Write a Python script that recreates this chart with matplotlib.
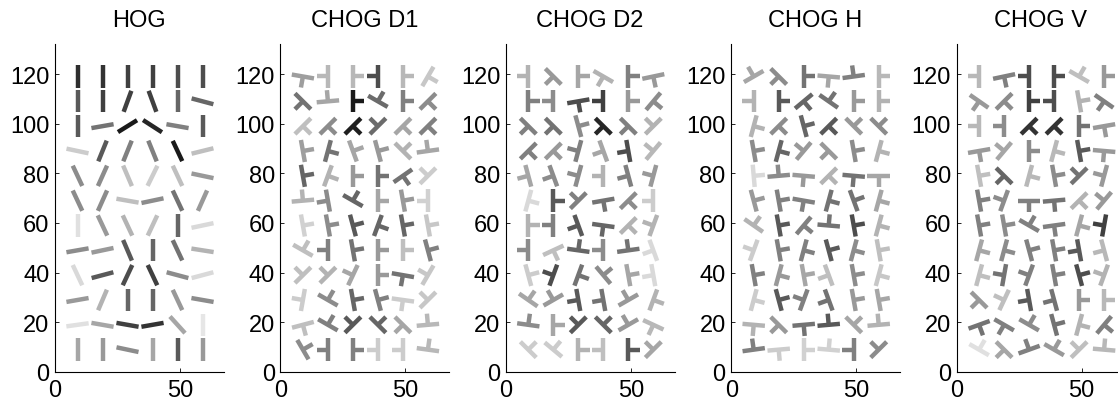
import numpy as np
import matplotlib
matplotlib.use("Agg")
import matplotlib.pyplot as plt
from matplotlib.collections import LineCollection

plt.rcParams['font.family'] = ['Liberation Sans', 'DejaVu Sans']

# cell centres (6 columns x 12 rows, rows listed top to bottom)
x_centers = [9, 19, 29, 39, 49, 59]
y_centers = [119, 109, 99, 89, 79, 69, 59, 49, 39, 29, 19, 9]

titles = ['HOG', 'CHOG D1', 'CHOG D2', 'CHOG H', 'CHOG V']

# HOG: orientation of each bar (degrees) and its grey level
hog_angle = [
    [90, 90, 90, 90, 90, 90],
    [90, 90, 70, 110, 90, 165],
    [90, 10, 32, 147, 170, 90],
    [168, 68, 68, 112, 115, 14],
    [115, 66, 113, 64, 115, 168],
    [115, 66, 170, 12, 115, 66],
    [90, 115, 115, 65, 90, 12],
    [10, 12, 113, 90, 115, 171],
    [115, 15, 65, 115, 165, 15],
    [10, 67, 90, 90, 115, 170],
    [8, 170, 170, 10, 132, 90],
    [90, 90, 168, 90, 90, 90],
]
hog_gray = [
    [0.18, 0.2, 0.25, 0.25, 0.3, 0.3],
    [0.35, 0.25, 0.25, 0.25, 0.4, 0.4],
    [0.35, 0.45, 0.1, 0.15, 0.5, 0.35],
    [0.8, 0.35, 0.5, 0.5, 0.1, 0.75],
    [0.55, 0.55, 0.75, 0.8, 0.75, 0.6],
    [0.55, 0.55, 0.75, 0.55, 0.45, 0.6],
    [0.88, 0.6, 0.7, 0.75, 0.4, 0.85],
    [0.55, 0.6, 0.35, 0.4, 0.45, 0.7],
    [0.85, 0.35, 0.3, 0.25, 0.55, 0.85],
    [0.6, 0.7, 0.4, 0.4, 0.6, 0.55],
    [0.88, 0.65, 0.25, 0.2, 0.65, 0.9],
    [0.65, 0.6, 0.55, 0.65, 0.35, 0.6],
]

# CHOG: direction of the stem (degrees); the bar is perpendicular to it
d1_stem = [
    [-100, 180, 0, 180, 0, -30],
    [-135, 95, 0, 60, 0, -45],
    [-45, -45, -45, 135, -45, -45],
    [10, -15, 20, 15, 45, 98],
    [10, -20, 0, 0, -55, 135],
    [95, -170, 60, 0, 10, 180],
    [10, 10, 15, -20, 10, 10],
    [60, 180, 10, 0, 0, 15],
    [135, 135, 155, 0, -100, 150],
    [170, 60, 10, 15, -98, 135],
    [-75, 60, 135, 45, -135, 95],
    [30, 180, 0, 180, 180, 82],
]
d1_gray = [
    [0.62, 0.72, 0.72, 0.3, 0.72, 0.78],
    [0.45, 0.65, 0.1, 0.42, 0.5, 0.55],
    [0.75, 0.55, 0.12, 0.42, 0.65, 0.5],
    [0.62, 0.45, 0.65, 0.6, 0.7, 0.65],
    [0.4, 0.7, 0.6, 0.45, 0.45, 0.8],
    [0.7, 0.55, 0.4, 0.65, 0.6, 0.82],
    [0.82, 0.55, 0.35, 0.4, 0.4, 0.78],
    [0.75, 0.5, 0.45, 0.6, 0.75, 0.5],
    [0.75, 0.7, 0.65, 0.6, 0.45, 0.78],
    [0.8, 0.55, 0.4, 0.5, 0.8, 0.78],
    [0.75, 0.5, 0.35, 0.4, 0.65, 0.72],
    [0.55, 0.5, 0.5, 0.8, 0.8, 0.72],
]

d2_stem = [
    [180, -135, 0, -120, 0, -78],
    [0, 180, -80, 180, 0, -40],
    [-135, -135, 15, -135, -135, 135],
    [-45, -45, 165, -160, -170, 140],
    [-165, -160, 165, 180, -165, 165],
    [-15, 0, 135, -80, -45, 180],
    [0, 180, -160, -98, -45, 160],
    [180, -65, 82, 180, 98, -160],
    [15, 160, -20, 40, 10, -170],
    [55, 120, -170, -170, 120, -20],
    [82, 0, 135, 45, 120, -115],
    [45, 50, 0, 180, 0, 135],
]
d2_gray = [
    [0.7, 0.6, 0.65, 0.7, 0.5, 0.6],
    [0.5, 0.55, 0.3, 0.25, 0.6, 0.55],
    [0.5, 0.45, 0.55, 0.15, 0.5, 0.7],
    [0.5, 0.6, 0.5, 0.65, 0.3, 0.72],
    [0.65, 0.55, 0.55, 0.7, 0.5, 0.6],
    [0.85, 0.35, 0.5, 0.45, 0.55, 0.8],
    [0.7, 0.5, 0.35, 0.4, 0.7, 0.7],
    [0.55, 0.75, 0.4, 0.55, 0.45, 0.85],
    [0.8, 0.3, 0.45, 0.55, 0.65, 0.85],
    [0.65, 0.6, 0.35, 0.45, 0.6, 0.7],
    [0.55, 0.65, 0.35, 0.4, 0.6, 0.72],
    [0.8, 0.8, 0.7, 0.75, 0.35, 0.65],
]

h_stem = [
    [120, -135, 0, -95, 98, 0],
    [180, 0, -50, 55, 0, 0],
    [-15, -45, 15, -45, 45, 45],
    [10, -15, 140, -135, 10, -15],
    [5, 95, -95, -45, -95, -90],
    [15, 10, -100, -15, 20, -15],
    [55, 10, -40, 85, 10, -15],
    [160, 10, -15, 15, -15, 10],
    [10, -15, 10, -160, 10, -15],
    [-15, 15, 160, -160, 10, 10],
    [-95, -135, -85, 95, 45, 95],
    [98, -85, 0, 85, 180, 135],
]
h_gray = [
    [0.65, 0.55, 0.45, 0.65, 0.5, 0.72],
    [0.7, 0.35, 0.4, 0.45, 0.6, 0.7],
    [0.7, 0.55, 0.4, 0.35, 0.6, 0.55],
    [0.55, 0.4, 0.6, 0.6, 0.55, 0.7],
    [0.85, 0.55, 0.6, 0.7, 0.45, 0.65],
    [0.6, 0.5, 0.5, 0.45, 0.45, 0.65],
    [0.7, 0.35, 0.5, 0.45, 0.3, 0.7],
    [0.8, 0.5, 0.5, 0.35, 0.55, 0.75],
    [0.5, 0.6, 0.65, 0.75, 0.55, 0.78],
    [0.8, 0.35, 0.5, 0.45, 0.6, 0.65],
    [0.7, 0.6, 0.45, 0.35, 0.65, 0.7],
    [0.5, 0.8, 0.82, 0.82, 0.5, 0.55],
]

v_stem = [
    [180, -78, 180, 0, 60, 0],
    [-125, -45, 0, 180, 10, -125],
    [180, 180, -45, -45, 0, -80],
    [-80, 140, 0, -15, 10, -95],
    [10, -135, -15, 10, 135, 165],
    [10, 160, -90, -85, -45, 140],
    [10, 10, 60, -82, -15, 170],
    [-15, -15, 15, 10, -170, -165],
    [-15, 170, 160, 10, 15, 160],
    [-135, 155, -170, -165, 0, 0],
    [-70, -120, 60, 15, -15, -40],
    [60, -135, 110, 60, 135, 85],
]
v_gray = [
    [0.72, 0.5, 0.3, 0.3, 0.75, 0.6],
    [0.6, 0.55, 0.25, 0.3, 0.7, 0.5],
    [0.72, 0.55, 0.2, 0.2, 0.45, 0.6],
    [0.6, 0.65, 0.55, 0.72, 0.35, 0.6],
    [0.75, 0.4, 0.72, 0.55, 0.45, 0.6],
    [0.5, 0.55, 0.5, 0.45, 0.7, 0.6],
    [0.5, 0.55, 0.5, 0.5, 0.65, 0.25],
    [0.65, 0.55, 0.5, 0.5, 0.35, 0.72],
    [0.75, 0.45, 0.5, 0.5, 0.3, 0.7],
    [0.6, 0.75, 0.35, 0.45, 0.6, 0.72],
    [0.45, 0.5, 0.55, 0.45, 0.7, 0.5],
    [0.88, 0.65, 0.5, 0.6, 0.75, 0.72],
]

BAR_LEN = 9.0
STEM_LEN = 4.5
LW = 3.2


def glyph_segments(angles, grays, stems=False):
    segs, cols = [], []
    for r, yc in enumerate(y_centers):
        for c, xc in enumerate(x_centers):
            g = grays[r][c]
            if stems:
                phi = np.deg2rad(angles[r][c])
                th = phi + np.pi / 2
            else:
                th = np.deg2rad(angles[r][c])
            dx, dy = 0.5 * BAR_LEN * np.cos(th), 0.5 * BAR_LEN * np.sin(th)
            segs.append([(xc - dx, yc - dy), (xc + dx, yc + dy)])
            cols.append((g, g, g))
            if stems:
                segs.append([(xc, yc), (xc + STEM_LEN * np.cos(phi), yc + STEM_LEN * np.sin(phi))])
                cols.append((g, g, g))
    return segs, cols


panels = [
    (hog_angle, hog_gray, False),
    (d1_stem, d1_gray, True),
    (d2_stem, d2_gray, True),
    (h_stem, h_gray, True),
    (v_stem, v_gray, True),
]

W, H = 1118, 406
fig = plt.figure(figsize=(W / 100, H / 100), dpi=100)

for i, (ang, gry, st) in enumerate(panels):
    left = 55 + 225.4 * i
    ax = fig.add_axes([left / W, 33 / H, 168.75 / W, 327.8 / H])
    segs, cols = glyph_segments(ang, gry, stems=st)
    lc = LineCollection(segs, colors=cols, linewidths=LW, capstyle='butt')
    ax.add_collection(lc)
    ax.set_xlim(0, 67.5)
    ax.set_ylim(0, 132)
    ax.set_xticks([0, 50])
    ax.set_yticks([0, 20, 40, 60, 80, 100, 120])
    ax.spines['top'].set_visible(False)
    ax.spines['right'].set_visible(False)
    for s in ('left', 'bottom'):
        ax.spines[s].set_linewidth(0.8)
    ax.tick_params(direction='in', length=3, width=0.6, labelsize=17)
    ax.tick_params(axis='x', pad=5)
    ax.tick_params(axis='y', pad=4)
    ax.set_title(titles[i], fontsize=17, pad=13)

fig.savefig('out.png', dpi=100)
